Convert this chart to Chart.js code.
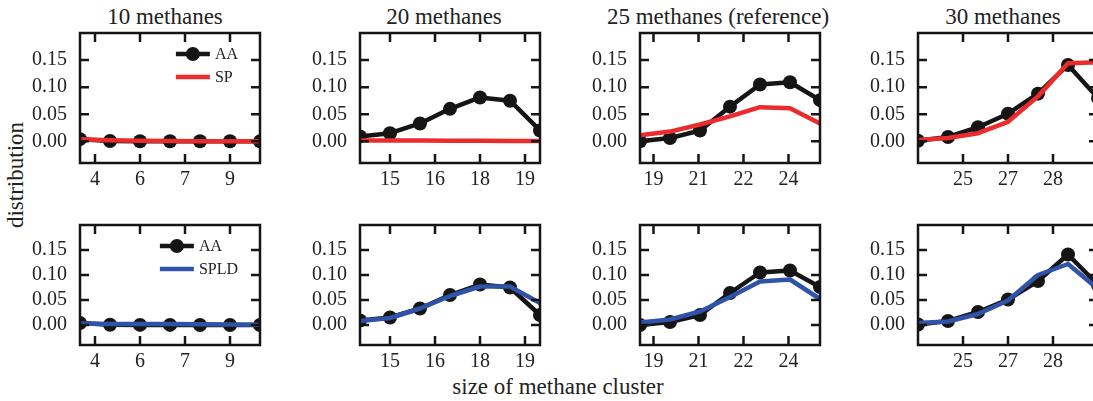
<!DOCTYPE html>
<html>
<head>
<meta charset="utf-8">
<script src="https://cdn.jsdelivr.net/npm/chart.js@4/dist/chart.umd.min.js"></script>
<style>
  html, body { margin: 0; padding: 0; width: 1093px; height: 401px; overflow: hidden; background: #fff; }
  #fig { position: relative; width: 1093px; height: 401px; overflow: hidden; }
  canvas { position: absolute; }
  .lab { position: absolute; font-family: 'Liberation Serif', serif; font-size: 23px; color: #222; white-space: nowrap; line-height: 1; }
</style>
</head>
<body>
<div id="fig">
  <div class="lab" id="ylab" style="left:15px; top:175px; transform: translate(-50%,-50%) rotate(-90deg);">distribution</div>
  <div class="lab" id="xlab" style="left:558px; top:386px; transform: translate(-50%,-50%);">size of methane cluster</div>
</div>
<script>
// ---- data: cluster-size distributions, 7 bins per system (x = bin index 0..6) ----
const titles = ['10 methanes', '20 methanes', '25 methanes (reference)', '30 methanes'];

// x tick positions (bin index) and their cluster-size labels, per system
const ticks10 = [0.5, 2, 3.5, 5];
const tickLabels10 = ['4', '6', '7', '9'];
const ticks20 = [1, 2.5, 4, 5.5];
const tickLabels20 = ['15', '16', '18', '19'];
const ticks25 = [0.45, 1.95, 3.45, 4.95];
const tickLabels25 = ['19', '21', '22', '24'];
const ticks30 = [1.5, 3, 4.5];
const tickLabels30 = ['25', '27', '28'];

const yTicks = [0, 0.05, 0.10, 0.15];

// all-atom reference
const aa10 = [0.004, 0.0005, 0.0002, 0.0002, 0.0001, 0.0001, 0.0];
const aa20 = [0.009, 0.015, 0.033, 0.060, 0.081, 0.075, 0.020];
const aa25 = [0.000, 0.006, 0.020, 0.064, 0.105, 0.109, 0.076];
const aa30 = [0.001, 0.008, 0.026, 0.051, 0.088, 0.141, 0.080];

// single-particle model
const sp10 = [0.004, 0.002, 0.001, 0.0005, 0.0002, 0.0001, 0.0];
const sp20 = [0.0015, 0.0015, 0.0015, 0.001, 0.001, 0.0008, 0.0005];
const sp25 = [0.011, 0.018, 0.031, 0.046, 0.063, 0.061, 0.033];
const sp30 = [0.0025, 0.006, 0.015, 0.036, 0.083, 0.144, 0.146];

// single-particle model with local density
const spld10 = [0.003, 0.002, 0.002, 0.002, 0.0015, 0.001, 0.0005];
const spld20 = [0.008, 0.014, 0.033, 0.058, 0.077, 0.077, 0.044];
const spld25 = [0.005, 0.011, 0.027, 0.056, 0.087, 0.091, 0.052];
const spld30 = [0.004, 0.007, 0.022, 0.049, 0.100, 0.122, 0.072];

// ---- styling / layout ----
const INK = '#151515';
const RED = '#ec2b2d';
const BLUE = '#2f53a8';
const FONT = 'Liberation Serif';
Chart.defaults.font.family = FONT;
Chart.defaults.color = '#222';

const colLeft = [80, 360, 640, 918];   // left edge of each plot area
const titleShift = [-5, -6, -12, -5];  // horizontal offset of each title from the plot centre
const AXIS_W = 80, PLOT_W = 180, PLOT_H = 130, RIGHT_PAD = 10;
const ROW_TOP = [33, 215];             // top edge of the plot areas in each row

const columns = [
  { aa: aa10, sp: sp10, spld: spld10, ticks: ticks10, labels: tickLabels10 },
  { aa: aa20, sp: sp20, spld: spld20, ticks: ticks20, labels: tickLabels20 },
  { aa: aa25, sp: sp25, spld: spld25, ticks: ticks25, labels: tickLabels25 },
  { aa: aa30, sp: sp30, spld: spld30, ticks: ticks30, labels: tickLabels30 },
];

const idx = [0, 1, 2, 3, 4, 5, 6];
const toPoints = arr => arr.map((v, i) => ({ x: idx[i], y: v }));

// frame and inward tick marks on all four sides
const framePlugin = {
  id: 'frame',
  afterDatasetsDraw(chart) {
    const { ctx, chartArea: a, scales: { x, y } } = chart;
    const len = 9;
    ctx.save();
    ctx.strokeStyle = INK;
    ctx.lineWidth = 2.5;
    ctx.beginPath();
    x.ticks.forEach(t => {
      const px = x.getPixelForValue(t.value);
      ctx.moveTo(px, a.bottom); ctx.lineTo(px, a.bottom - len);
      ctx.moveTo(px, a.top); ctx.lineTo(px, a.top + len);
    });
    y.ticks.forEach(t => {
      const py = y.getPixelForValue(t.value);
      ctx.moveTo(a.left, py); ctx.lineTo(a.left + len, py);
      ctx.moveTo(a.right, py); ctx.lineTo(a.right - len, py);
    });
    ctx.stroke();
    ctx.lineJoin = 'miter';
    ctx.strokeRect(a.left, a.top, a.right - a.left, a.bottom - a.top);
    ctx.restore();
  }
};

// legend in the upper-right corner of the plot area
const cornerLegend = {
  id: 'cornerLegend',
  afterDatasetsDraw(chart, args, opts) {
    if (!opts.show) return;
    const { ctx, chartArea: a } = chart;
    const ds = chart.data.datasets;
    ctx.save();
    ctx.font = '16px "' + FONT + '"';
    const textW = Math.max(...ds.map(d => ctx.measureText(d.label).width));
    const textX = a.right - 22 - textW;
    const sampleEnd = textX - 5, sampleStart = sampleEnd - 34;
    ds.forEach((d, i) => {
      const yy = a.top + 21 + i * 23;
      ctx.strokeStyle = d.borderColor;
      ctx.lineWidth = d.borderWidth;
      ctx.lineCap = 'butt';
      ctx.beginPath(); ctx.moveTo(sampleStart, yy); ctx.lineTo(sampleEnd, yy); ctx.stroke();
      if (d.pointRadius > 0) {
        ctx.fillStyle = d.pointBackgroundColor;
        ctx.beginPath(); ctx.arc((sampleStart + sampleEnd) / 2, yy, d.pointRadius, 0, Math.PI * 2); ctx.fill();
      }
      ctx.fillStyle = '#222';
      ctx.textBaseline = 'middle';
      ctx.textAlign = 'left';
      ctx.fillText(d.label, textX, yy + 1);
    });
    ctx.restore();
  }
};

const fig = document.getElementById('fig');

// panel titles above the top row
titles.forEach((t, col) => {
  const d = document.createElement('div');
  d.className = 'lab';
  d.textContent = t;
  d.style.left = (colLeft[col] + PLOT_W / 2 + titleShift[col]) + 'px';
  d.style.top = '16px';
  d.style.transform = 'translate(-50%,-50%)';
  fig.appendChild(d);
});

function makePanel(col, row) {
  const c = columns[col];
  const canvas = document.createElement('canvas');
  const w = AXIS_W + PLOT_W + RIGHT_PAD;
  const h = 200;
  const top = row * 200;
  canvas.width = w; canvas.height = h;
  canvas.style.left = (colLeft[col] - AXIS_W) + 'px';
  canvas.style.top = top + 'px';
  fig.appendChild(canvas);

  const model = row === 0
    ? { label: 'SP', data: c.sp, color: RED }
    : { label: 'SPLD', data: c.spld, color: BLUE };

  const topPad = ROW_TOP[row] - top;
  const xAxisH = h - topPad - PLOT_H;

  new Chart(canvas, {
    type: 'line',
    data: {
      datasets: [
        {
          label: 'AA', data: toPoints(c.aa), order: 1,
          borderColor: INK, borderWidth: 4.5, backgroundColor: INK,
          pointRadius: 7, pointBackgroundColor: INK, pointBorderWidth: 0,
          pointHoverRadius: 7, borderJoinStyle: 'round', tension: 0, clip: 0, fill: false
        },
        {
          label: model.label, data: toPoints(model.data), order: 0,
          borderColor: model.color, borderWidth: 4.5, backgroundColor: model.color,
          pointRadius: 0, pointHoverRadius: 0, pointBackgroundColor: model.color,
          borderJoinStyle: 'round', tension: 0, clip: 0, fill: false
        }
      ]
    },
    options: {
      responsive: false,
      animation: false,
      devicePixelRatio: 1,
      events: [],
      layout: { padding: { left: 0, right: RIGHT_PAD, top: topPad, bottom: 0 } },
      plugins: {
        legend: { display: false },
        tooltip: { enabled: false },
        title: { display: false },
        cornerLegend: { show: col === 0 }
      },
      scales: {
        x: {
          type: 'linear', min: 0, max: 6,
          grid: { display: false, drawTicks: false },
          border: { display: false },
          afterBuildTicks: s => { s.ticks = c.ticks.map(v => ({ value: v })); },
          afterFit: s => { s.height = xAxisH; },
          ticks: {
            autoSkip: false, maxRotation: 0, minRotation: 0, padding: 5,
            color: '#222', font: { family: FONT, size: 20 },
            callback: (v, i) => c.labels[i]
          }
        },
        y: {
          type: 'linear', min: -0.04, max: 0.20,
          grid: { display: false, drawTicks: false },
          border: { display: false },
          afterBuildTicks: s => { s.ticks = yTicks.map(v => ({ value: v })); },
          afterFit: s => { s.width = AXIS_W; },
          ticks: {
            padding: 13, color: '#222', font: { family: FONT, size: 20 },
            callback: v => v.toFixed(2)
          }
        }
      }
    },
    plugins: [framePlugin, cornerLegend]
  });
}

for (let row = 0; row < 2; row++) {
  for (let col = 0; col < 4; col++) makePanel(col, row);
}
</script>
</body>
</html>
